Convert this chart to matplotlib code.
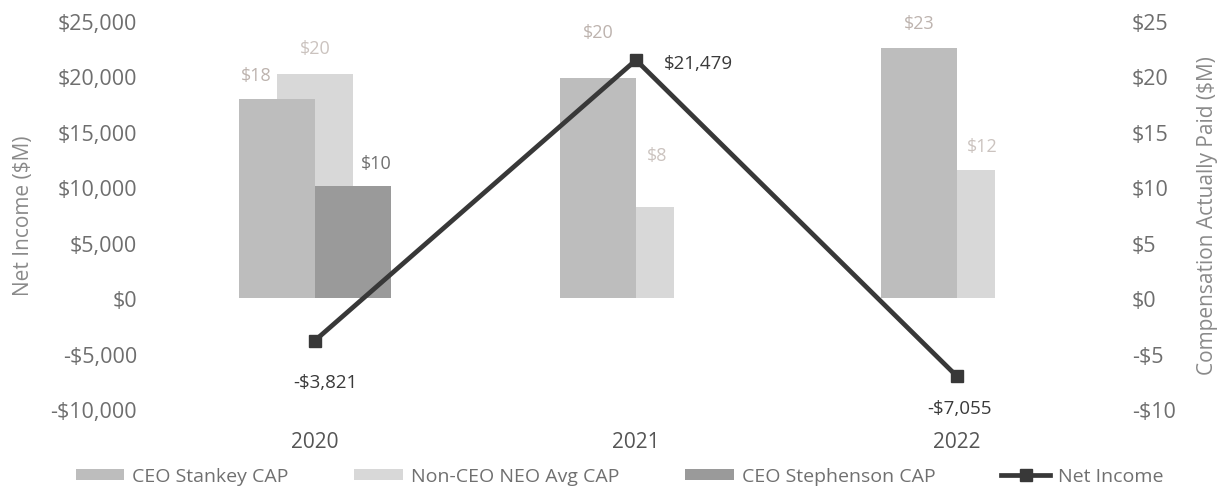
import matplotlib.pyplot as plt
import numpy as np

plt.rcParams['font.family'] = ['Open Sans', 'DejaVu Sans']

years = ["2020", "2021", "2022"]

# compensation actually paid ($M), NaN = no bar
stankey_cap = [18.0, 19.9, 22.6]
non_ceo_cap = [20.2, 8.2, 11.6]
stephenson_cap = [10.1, np.nan, np.nan]

# net income ($M)
net_income = [-3821, 21479, -7055]

x = np.arange(len(years))
w = 0.237

fig = plt.figure(figsize=(12.17, 4.89), dpi=100)
ax = fig.add_axes([154.5 / 1217, 79 / 489, 963 / 1217, 388 / 489])
ax2 = ax.twinx()
ax.set_zorder(ax2.get_zorder() + 1)
ax.patch.set_visible(False)

c_stankey = "#bdbdbd"
c_nonceo = "#d8d8d8"
c_steph = "#9a9a9a"

ax2.bar(x, non_ceo_cap, width=w, color=c_nonceo, label="Non-CEO NEO Avg CAP", zorder=1)
ax2.bar(x - w / 2, stankey_cap, width=w, color=c_stankey, label="CEO Stankey CAP", zorder=2)
ax2.bar(x + w / 2, stephenson_cap, width=w, color=c_steph, label="CEO Stephenson CAP", zorder=2)

ax.plot(x, net_income, color="#383838", lw=3.4, marker="s", ms=9, label="Net Income")

# bar value labels (offsets in pixels)
st_off = [(-21, 24), (0, 46), (0, 25)]
nc_off = [(0, 26), (21, 52), (25, 24)]
sp_off = [(23, 23), None, None]
for i in range(len(years)):
    ax2.annotate(f"${stankey_cap[i]:.0f}", (x[i] - w / 2, stankey_cap[i]), xytext=st_off[i],
                 textcoords="offset pixels", ha="center", va="center", fontsize=13, color="#bdb3ae")
    ax2.annotate(f"${non_ceo_cap[i]:.0f}", (x[i], non_ceo_cap[i]), xytext=nc_off[i],
                 textcoords="offset pixels", ha="center", va="center", fontsize=13, color="#cbc3bf")
    if not np.isnan(stephenson_cap[i]):
        ax2.annotate(f"${stephenson_cap[i]:.0f}", (x[i] + w / 2, stephenson_cap[i]), xytext=sp_off[i],
                     textcoords="offset pixels", ha="center", va="center", fontsize=13, color="#707070")

ni_off = [(10, -41), (62, -3), (3, -32)]
for i in range(len(years)):
    v = net_income[i]
    txt = f"-${abs(v):,}" if v < 0 else f"${v:,}"
    ax.annotate(txt, (x[i], v), xytext=ni_off[i], textcoords="offset pixels",
                ha="center", va="center", fontsize=13.5, color="#3a3a3a")

ax.set_xlim(-0.5, 2.5)
ax.set_ylim(-10000, 25000)
ax2.set_ylim(-10, 25)
ax.set_yticks(np.arange(-10000, 25001, 5000))
ax2.set_yticks(np.arange(-10, 26, 5))
ax.set_yticklabels([f"-${abs(t):,}" if t < 0 else f"${t:,}" for t in range(-10000, 25001, 5000)])
ax2.set_yticklabels([f"-${abs(t)}" if t < 0 else f"${t}" for t in range(-10, 26, 5)])
ax.set_xticks(x)
ax.set_xticklabels(years)

for a in (ax, ax2):
    for s in a.spines.values():
        s.set_visible(False)
    a.tick_params(length=0, labelsize=15.5, labelcolor="#6e6e6e")
ax.tick_params(axis="y", pad=12.5)
ax2.tick_params(axis="y", pad=10.5)
ax.tick_params(axis="x", pad=16, labelsize=15, labelcolor="#555555")

ax.set_ylabel("Net Income ($M)", fontsize=15, color="#8a8a8a", labelpad=12)
ax2.set_ylabel("Compensation Actually Paid ($M)", fontsize=15, color="#8a8a8a", labelpad=15)

h1, l1 = ax2.get_legend_handles_labels()
h2, l2 = ax.get_legend_handles_labels()
order = [1, 0, 2]
handles = [h1[i] for i in order] + h2
labels = [l1[i] for i in order] + l2
leg = fig.legend(handles, labels, loc="center", bbox_to_anchor=(0.509, 0.024), ncol=4,
                 frameon=False, fontsize=14, handlelength=2.5, handleheight=0.55,
                 columnspacing=3.4, handletextpad=0.4)
for t in leg.get_texts():
    t.set_color("#707070")

plt.savefig("out.png", dpi=100)
